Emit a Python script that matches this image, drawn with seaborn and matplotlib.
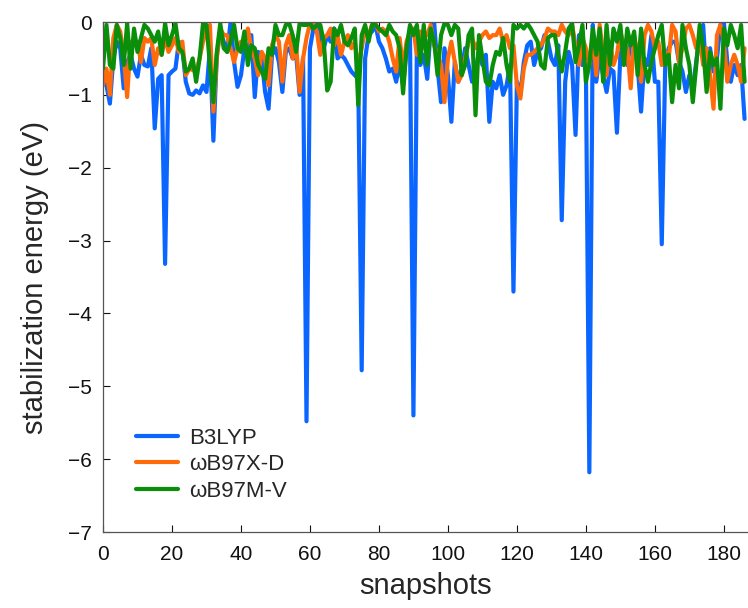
import numpy as np
import pandas as pd
import matplotlib
matplotlib.use("Agg")
import matplotlib.pyplot as plt
import seaborn as sns
from matplotlib.lines import Line2D

b3lyp = [
    -0.82, -0.87, -1.12, -0.50, -0.27, -0.36, -0.91, -0.55, -0.45, -0.64,
    -0.75, -0.45, -0.59, -0.61, -0.36, -1.46, -0.78, -0.73, -3.32, -0.73,
    -0.68, -0.64, -0.27, -0.36, -0.82, -0.98, -1.00, -0.94, -0.98, -0.87,
    -0.96, -0.36, -1.63, -0.45, -0.13, -0.27, -0.41, 0.00, -0.55, -0.89,
    -0.73, -0.36, -0.41, -0.18, -1.03, -0.41, -0.50,
    -0.96, -1.19, -0.45, -0.36, -0.55, -0.96, -0.41, -0.36, -0.50, -0.45,
    -1.00, -0.50, -5.48, -0.36, -0.09, -0.04, -0.18, -0.36, -0.18, -0.27,
    -0.09, -0.50, -0.45, -0.50, -0.59, -0.68, -0.73, -0.78, -4.78, -0.50,
    -0.18, -0.13, -0.04, -0.27, -0.36, -0.50, -0.68, -0.64, -0.82, -0.55,
    -0.87, -0.36, -0.18, -5.40, -0.36, -0.59, -0.45,
    -0.78, -0.09, 0.00, -0.64, -1.10, -0.36, -0.73, -1.37, -0.55, -0.82,
    -0.64, -0.36, -0.59, -0.82, -0.68, -0.41, -0.59, -0.45, -1.37, -0.82,
    -0.91, -0.73, -1.00, -0.87, -0.59, -3.70, -0.82, -1.00, -0.55, -0.32,
    -0.27, -0.59, -0.41, -0.36, -0.18, -0.27, -0.50, -0.59, -0.32, -2.72,
    -0.82, -0.41, -0.59, -1.55, -0.18, -0.59, -0.59,
    -6.18, -0.04, -0.82, -0.45, -0.73, -0.96, -0.64, -0.68, -1.52, -0.45,
    -0.27, -0.59, -0.27, -0.22, -0.59, -1.23, -0.50, -0.59, -0.18, -0.82,
    -0.82, -3.05, -0.59, -0.36, -0.27, -0.27, -0.55, -0.68, -0.96, -0.73,
    -0.91, -0.55, -0.18, -0.04, -0.82, -0.36, -0.68, -0.50, -0.04, 0.00,
    -0.55, -0.82, -0.59, -0.73, -0.59, -1.33,
]

wb97xd = [
    -0.87, -0.64, -1.00, -0.22, -0.04, -0.13, -0.45, -1.03, -0.27, -0.32,
    -0.27, -0.55, -0.22, -0.27, -0.22, -0.59, -0.36, -0.45, -0.22, -0.41,
    -0.32, -0.22, -0.41, -0.27, -0.73, -0.64, -0.66, -0.68, -0.50, -0.27,
    -0.09, -0.04, -1.23, -0.50, -0.09, -0.18, -0.18, -0.36, -0.55, -0.36,
    -0.27, -0.32, -0.09, -0.36, -0.50, -0.73, -0.41,
    -0.50, -0.87, -0.32, -0.18, -0.27, -0.82, -0.32, -0.18, -0.50, -0.32,
    -0.96, -0.50, -0.22, -0.02, -0.04, -0.13, -0.45, -0.22, -0.18, -0.09,
    -0.32, -0.18, -0.45, -0.27, -0.18, -0.36, -0.27, -0.64, -0.36, -0.09,
    -0.18, -0.04, -0.02, -0.13, -0.09, -0.13, -0.27, -0.50, -0.68, -0.22,
    -0.64, -0.27, -0.13, -0.09, -0.45, -0.13, -0.18,
    -0.18, -0.04, -0.32, -0.45, -0.59, -1.10, -0.50, -0.27, -0.55, -0.82,
    -0.73, -0.50, -0.27, -0.22, -0.36, -0.27, -0.18, -0.13, -0.22, -0.18,
    -0.18, -0.09, -0.27, -0.18, -0.36, -0.32, -0.87, -1.05, -0.64, -0.45,
    -0.45, -0.41, -0.36, -0.32, -0.22, -0.09, -0.13, -0.13, -0.18, -0.04,
    -0.13, -0.18, -0.04, -0.32, -0.59, -0.22, -0.36,
    -0.59, -0.18, -0.73, -0.04, -0.45, -0.73, -0.27, -0.59, -0.45, -0.13,
    -0.32, -0.36, -0.91, -0.18, -0.45, -0.82, -0.18, -0.04, -0.13, -0.36,
    -0.27, -0.59, -0.41, -0.50, -0.04, -0.13, -0.55, -0.36, -0.09, -0.04,
    -0.18, -0.36, -0.22, -0.59, -0.36, -0.73, -1.19, -0.18, -0.04, -0.27,
    -0.82, -0.59, -0.45, -0.59, -0.82, -0.36,
]

wb97mv = [
    -0.64, -0.04, -0.59, -0.64, -0.04, -0.22, -0.59, -0.02, -0.64, -0.09,
    -0.41, -0.22, -0.04, -0.09, -0.18, -0.27, -0.13, -0.45, -0.02, -0.32,
    -0.18, -0.02, -0.36, -0.41, -0.68, -0.64, -0.50, -0.82, -0.50, -0.02,
    -0.04, -0.59, -1.10, -0.41, -0.02, -0.36, -0.41, -0.27, -0.04, -0.36,
    -0.41, -0.13, -0.59, -0.32, -0.36, -0.59, -0.68,
    -0.78, -0.36, -0.45, -0.04, -0.18, -0.18, -0.04, -0.02, -0.18, -0.41,
    -0.02, -0.04, -0.04, -0.02, -0.09, -0.04, -0.04, -0.27, -0.94, -0.82,
    -0.09, -0.18, -0.04, -0.27, -0.32, -0.22, -0.09, -1.14, -0.18, -0.04,
    -0.27, -0.04, -0.04, -0.09, -0.13, -0.18, -0.04, -0.13, -0.18, -0.36,
    -0.98, -0.36, -0.04, -0.18, -0.04, -0.55, -0.04,
    -0.59, -0.09, -0.27, -0.73, -0.18, -0.02, -0.04, -0.18, -0.04, -0.09,
    -0.73, -0.59, -0.18, -0.09, -1.28, -0.18, -0.50, -0.82, -0.87, -0.59,
    -0.41, -0.45, -0.22, -0.59, -0.82, -0.04, -0.09, -0.04, -0.09, -0.02,
    -0.09, -0.18, -0.27, -0.59, -0.64, -0.22, -0.18, -0.18, -0.45, -0.68,
    -0.41, -0.09, -0.02, -0.55, -0.32, -0.04, -0.82,
    -0.59, -0.09, -0.45, -0.09, -0.82, -0.04, -0.59, -0.09, -0.27, -0.04,
    -0.59, -0.09, -0.32, -0.13, -0.73, -0.09, -0.59, -0.82, -0.55, -0.36,
    -0.18, -0.04, -0.59, -0.45, -1.10, -0.59, -0.91, -0.04, -0.36, -0.59,
    -1.10, -0.59, -0.04, -0.36, -0.96, -0.41, -0.59, -0.50, -1.19, -0.09,
    -0.32, -0.04, -0.18, -0.36, -0.04, -0.82,
]

series_names = ["B3LYP", "\u03c9B97X-D", "\u03c9B97M-V"]
x_ticks = [0, 20, 40, 60, 80, 100, 120, 140, 160, 180]
y_ticks = [0, -1, -2, -3, -4, -5, -6, -7]
colors = ["#0a66ff", "#ff6a0a", "#0a8f0a"]

snap = np.arange(len(b3lyp))
df = pd.concat([
    pd.DataFrame({"snapshot": snap, "energy": vals, "method": name})
    for name, vals in zip(series_names, [b3lyp, wb97xd, wb97mv])
], ignore_index=True)

sns.set_style("ticks")
plt.rcParams["font.family"] = ["Liberation Sans", "DejaVu Sans"]

fig = plt.figure(figsize=(7.48, 6.08), dpi=100)
ax = fig.add_axes([0.1377, 0.125, 0.8623, 0.8388])

sns.lineplot(data=df, x="snapshot", y="energy", hue="method",
             hue_order=series_names, palette=colors, linewidth=3.0,
             ax=ax, legend=False)

ax.set_xlim(0, 187)
ax.set_ylim(-7, 0)
ax.set_xticks(x_ticks)
ax.set_yticks(y_ticks)
ax.set_yticklabels(["0" if t == 0 else "\u2212%d" % abs(t) for t in y_ticks])
ax.tick_params(direction="in", length=5, width=0.8, labelsize=15,
               colors="#111111", top=True, right=False)
ax.tick_params(axis="x", pad=9)
ax.tick_params(axis="y", pad=8)
for s in ["left", "bottom", "top"]:
    ax.spines[s].set_color("#555555")
    ax.spines[s].set_linewidth(0.9)
ax.spines["right"].set_visible(False)

ax.set_xlabel("snapshots", fontsize=21, labelpad=6)
ax.set_ylabel("stabilization energy (eV)", fontsize=21, labelpad=14)

handles = [Line2D([0], [0], color=c, lw=3.0) for c in colors]
ax.legend(handles, series_names, loc="lower left", bbox_to_anchor=(0.02, 0.02),
          frameon=False, fontsize=16, handlelength=1.9, labelspacing=0.25,
          handletextpad=0.5)

fig.savefig("out.png", dpi=100)
